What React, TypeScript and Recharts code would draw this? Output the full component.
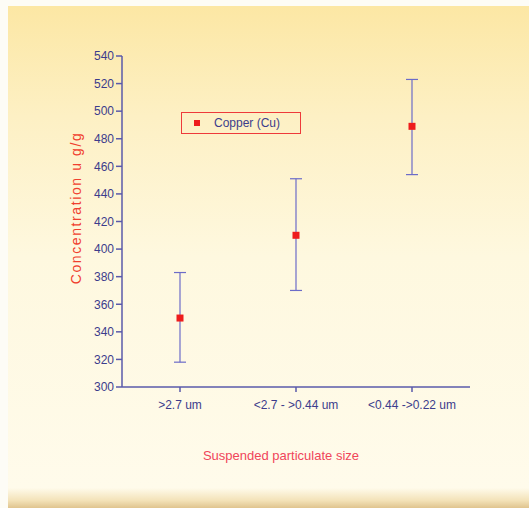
import { ComposedChart, Scatter, ErrorBar, XAxis, YAxis } from 'recharts';

const categories = ['>2.7 um', '<2.7 - >0.44 um', '<0.44 ->0.22 um'];
const copper = [350, 410, 489];
const errLow = [32, 40, 35];
const errHigh = [33, 41, 34];
const yTicks = [300, 320, 340, 360, 380, 400, 420, 440, 460, 480, 500, 520, 540];

const data = categories.map((name, i) => ({
  name,
  copper: copper[i],
  err: [errLow[i], errHigh[i]]
}));

const AXIS = '#5a5aaa';
const TEXT = '#3c3c8c';
const RED = '#ee1c1c';
const FONT = "'Liberation Sans', Arial, sans-serif";

function Square(props: any) {
  const { cx, cy } = props;
  return <rect x={cx - 3.5} y={cy - 3.5} width={7} height={7} fill={RED} />;
}

export default function App() {
  return (
    <div
      style={{
        position: 'absolute',
        left: 0,
        top: 0,
        width: 529,
        height: 508,
        background: '#fdfcf6',
        fontFamily: FONT
      }}
    >
      <div
        style={{
          position: 'absolute',
          left: 8,
          top: 6,
          width: 521,
          height: 502,
          background:
            'linear-gradient(180deg, #fce7a4 0%, #fdf0c4 22%, #fef8df 50%, #fffbeb 96%, #f3e2b8 98.5%, #e0c48e 100%)'
        }}
      />
      <div style={{ position: 'absolute', left: 0, top: 0 }}>
        <ComposedChart
          width={529}
          height={508}
          data={data}
          margin={{ top: 56, right: 59, bottom: 91, left: 62 }}
        >
          <XAxis
            dataKey="name"
            scale="band"
            height={30}
            stroke={AXIS}
            strokeWidth={1.5}
            tickSize={5}
            tickMargin={8}
            tick={{ fill: TEXT, fontSize: 12, fontFamily: FONT }}
            interval={0}
          />
          <YAxis
            domain={[300, 540]}
            ticks={yTicks}
            width={60}
            stroke={AXIS}
            strokeWidth={1.5}
            tickSize={6}
            tickMargin={2}
            interval={0}
            tick={{ fill: TEXT, fontSize: 12, fontFamily: FONT }}
            label={{
              content: () => (
                <text
                  x={81}
                  y={208}
                  transform="rotate(-90 81 208)"
                  textAnchor="middle"
                  fill="#f0402e"
                  fontSize={14}
                  letterSpacing={1.6}
                  fontFamily={FONT}
                >
                  Concentration  u g/g
                </text>
              )
            }}
          />
          <Scatter dataKey="copper" shape={Square} isAnimationActive={false}>
            <ErrorBar dataKey="err" direction="y" width={6} stroke="#6c6cc8" strokeWidth={1.2} />
          </Scatter>
        </ComposedChart>
      </div>
      <div
        style={{
          position: 'absolute',
          left: 181,
          top: 112,
          width: 120,
          height: 22,
          border: '1px solid #ee3a3a',
          boxSizing: 'border-box',
          display: 'flex',
          alignItems: 'center',
          fontSize: 12,
          color: TEXT
        }}
      >
        <span style={{ display: 'inline-block', width: 6, height: 6, background: RED, marginLeft: 12, marginRight: 14 }} />
        Copper (Cu)
      </div>
      <div
        style={{
          position: 'absolute',
          left: 181,
          top: 448,
          width: 200,
          textAlign: 'center',
          fontSize: 13,
          color: '#f0455a'
        }}
      >
        Suspended particulate size
      </div>
    </div>
  );
}
